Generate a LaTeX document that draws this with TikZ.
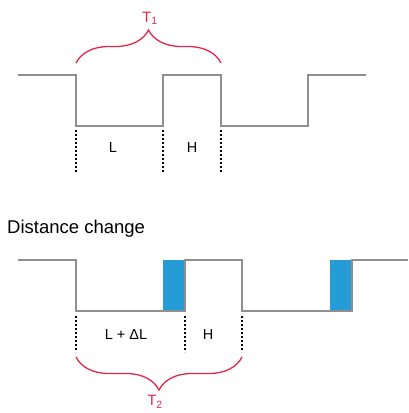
\documentclass[tikz,border=0pt]{standalone}
\usepackage{fontspec}
\setmainfont{Liberation Sans}
\usetikzlibrary{decorations.pathreplacing}

\definecolor{wavegray}{HTML}{8F8F8F}
\definecolor{bracered}{HTML}{E5254B}
\definecolor{pulseblue}{HTML}{259CD5}

\begin{document}
\begin{tikzpicture}[
    x=1pt, y=-1pt,
    wave/.style={line width=2.6pt, wavegray, line join=miter},
    pulse/.style={fill=pulseblue, draw=none},
    marker/.style={line width=1.6pt, black, dash pattern=on 1.6pt off 2.4pt},
    period/.style={
        decorate, decoration={brace, amplitude=33pt},
        line width=1.3pt, bracered
    },
    lbl/.style={font=\fontsize{14.5}{17}\selectfont, inner sep=0pt},
    plbl/.style={font=\fontsize{15}{17}\selectfont, inner sep=0pt, text=bracered}
]
\useasboundingbox (0,0) rectangle (408,413);

% top signal
\def\hiA{75}
\def\loA{126}
\draw[wave] (18,\hiA) -- (76,\hiA) -- (76,\loA) -- (163,\loA) -- (163,\hiA)
    -- (221,\hiA) -- (221,\loA) -- (308,\loA) -- (308,\hiA) -- (366,\hiA);

\coordinate (a0) at (76,130);
\coordinate (a1) at (163,130);
\coordinate (a2) at (221,130);
\draw[marker] (a0) -- +(0,42);
\draw[marker] (a1) -- +(0,42);
\draw[marker] (a2) -- +(0,42);

\node (l1) [lbl] at (113,148) {L};
\node (h1) [lbl] at (192,148) {H};

\coordinate (t1a) at (76,63);
\coordinate (t1b) at (221,63);
\draw[period] (t1a) -- (t1b);
\node (t1) [plbl] at (150,18) {T\textsubscript{1}};

% distance change
\node (dc) [lbl, font=\fontsize{18.5}{21}\selectfont, anchor=west] at (7,229) {Distance change};

\def\hiB{260}
\def\loB{311}
\fill[pulse] (163,\hiB) rectangle (185,\loB);
\fill[pulse] (330,\hiB) rectangle (352,\loB);
\draw[wave] (18,\hiB) -- (76,\hiB) -- (76,\loB) -- (185,\loB) -- (185,\hiB)
    -- (242,\hiB) -- (242,\loB) -- (352,\loB) -- (352,\hiB) -- (408,\hiB);

\coordinate (b0) at (76,316);
\coordinate (b1) at (185,316);
\coordinate (b2) at (242,316);
\draw[marker] (b0) -- +(0,36);
\draw[marker] (b1) -- +(0,36);
\draw[marker] (b2) -- +(0,36);

\node (l2) [lbl] at (126,335) {L + ΔL};
\node (h2) [lbl] at (208,335) {H};

\coordinate (t2a) at (76,357);
\coordinate (t2b) at (242,357);
\draw[period] (t2b) -- (t2a);
\node (t2) [plbl] at (155,402) {T\textsubscript{2}};

\end{tikzpicture}
\end{document}
